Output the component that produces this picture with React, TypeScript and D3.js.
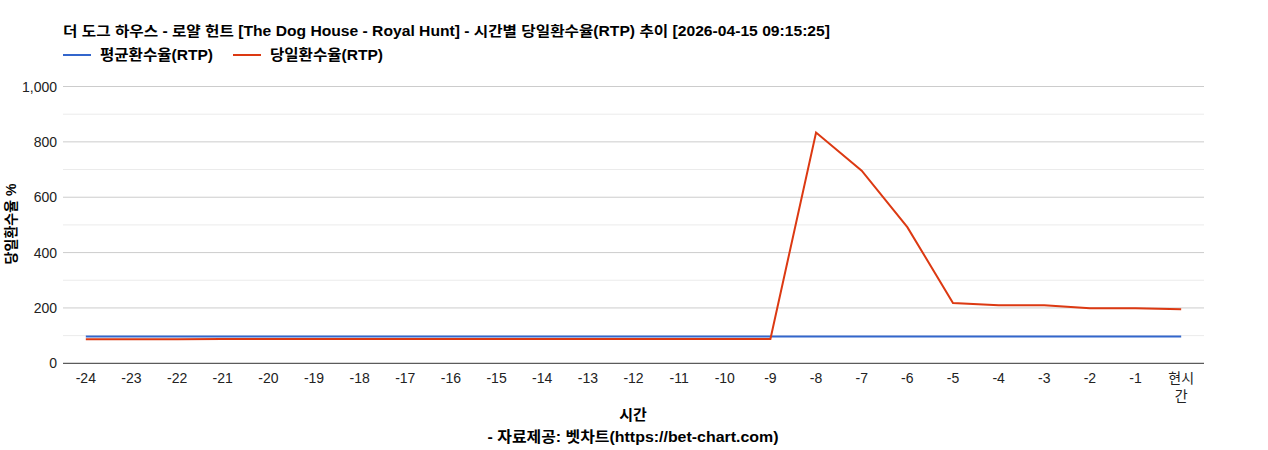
import React from "react";
import * as d3 from "d3";

const categories: string[] = [
  "-24", "-23", "-22", "-21", "-20", "-19", "-18", "-17", "-16", "-15", "-14", "-13",
  "-12", "-11", "-10", "-9", "-8", "-7", "-6", "-5", "-4", "-3", "-2", "-1", "현시간",
];
const avgRtp: number[] = [
  97, 97, 97, 97, 97, 97, 97, 97, 97, 97, 97, 97, 97, 97, 97, 97, 97, 97, 97, 97, 97, 97, 97, 97, 97,
];
const dailyRtp: number[] = [
  87, 87, 87, 88, 88, 88, 88, 88, 88, 88, 88, 88, 88, 88, 88, 88, 834, 696, 492, 218, 210, 210, 199, 199, 195,
];
const yTicks: number[] = [0, 200, 400, 600, 800, 1000];
const yMinor: number[] = [100, 300, 500, 700, 900];

const title = "더 도그 하우스 - 로얄 헌트 [The Dog House - Royal Hunt] - 시간별 당일환수율(RTP) 추이 [2026-04-15 09:15:25]";
const legendItems = [
  { label: "평균환수율(RTP)", color: "#3366cc" },
  { label: "당일환수율(RTP)", color: "#dc3912" },
];

const W = 1268;
const H = 450;
const left = 63;
const right = 1204;
const top = 86.5;
const bottom = 363.3;
const FONT = "Arial, 'Liberation Sans', 'Noto Sans CJK KR', sans-serif";

export default function App() {
  const x = d3.scaleBand<string>().domain(categories).range([left, right]);
  const cx = (c: string) => (x(c) as number) + x.bandwidth() / 2;
  const y = d3.scaleLinear().domain([0, 1000]).range([bottom, top]);
  const line = d3
    .line<number>()
    .x((_, i) => cx(categories[i]))
    .y((d) => y(d));

  return (
    <svg width={W} height={H} style={{ position: "absolute", left: 0, top: 0, background: "#fff" }} fontFamily={FONT}>
      <text x={63} y={36} fontSize={14} fontWeight="bold" fill="#000" textLength={767} lengthAdjust="spacingAndGlyphs">
        {title}
      </text>
      {legendItems.map((it, i) => {
        const lx = i === 0 ? 63 : 233;
        return (
          <g key={it.label}>
            <line x1={lx} x2={lx + 28} y1={55} y2={55} stroke={it.color} strokeWidth={2} />
            <text x={lx + 37} y={60} fontSize={15} fontWeight="bold" fill="#000" textLength={113} lengthAdjust="spacingAndGlyphs">
              {it.label}
            </text>
          </g>
        );
      })}
      {yMinor.map((v) => (
        <line key={"m" + v} x1={left} x2={right} y1={y(v)} y2={y(v)} stroke="#ebebeb" strokeWidth={1} />
      ))}
      {yTicks.map((v) => (
        <g key={v}>
          {v !== 0 && <line x1={left} x2={right} y1={y(v)} y2={y(v)} stroke="#cccccc" strokeWidth={1} />}
          <text x={57} y={y(v) + 5} fontSize={14} textAnchor="end" fill="#222">
            {d3.format(",")(v)}
          </text>
        </g>
      ))}
      <path d={line(avgRtp) || ""} fill="none" stroke="#3366cc" strokeWidth={2} />
      <path d={line(dailyRtp) || ""} fill="none" stroke="#dc3912" strokeWidth={2} />
      <line x1={left} x2={right} y1={bottom} y2={bottom} stroke="#333" strokeWidth={1} />
      {categories.map((c) =>
        c === "현시간" ? (
          <text key={c} x={cx(c)} y={383} fontSize={14} textAnchor="middle" fill="#222">
            <tspan x={cx(c)} dy={0}>현시</tspan>
            <tspan x={cx(c)} dy={18}>간</tspan>
          </text>
        ) : (
          <text key={c} x={cx(c)} y={383} fontSize={14} textAnchor="middle" fill="#222">
            {c}
          </text>
        )
      )}
      <text x={633} y={420} fontSize={15} fontWeight="bold" textAnchor="middle" fill="#000">
        시간
      </text>
      <text x={633} y={442} fontSize={15} fontWeight="bold" textAnchor="middle" fill="#000" textLength={291} lengthAdjust="spacingAndGlyphs">
        - 자료제공: 벳차트(https://bet-chart.com)
      </text>
      <text
        transform={`translate(16,224) rotate(-90)`}
        fontSize={14}
        fontWeight="bold"
        textAnchor="middle"
        fill="#000"
      >
        당일환수율 %
      </text>
    </svg>
  );
}
